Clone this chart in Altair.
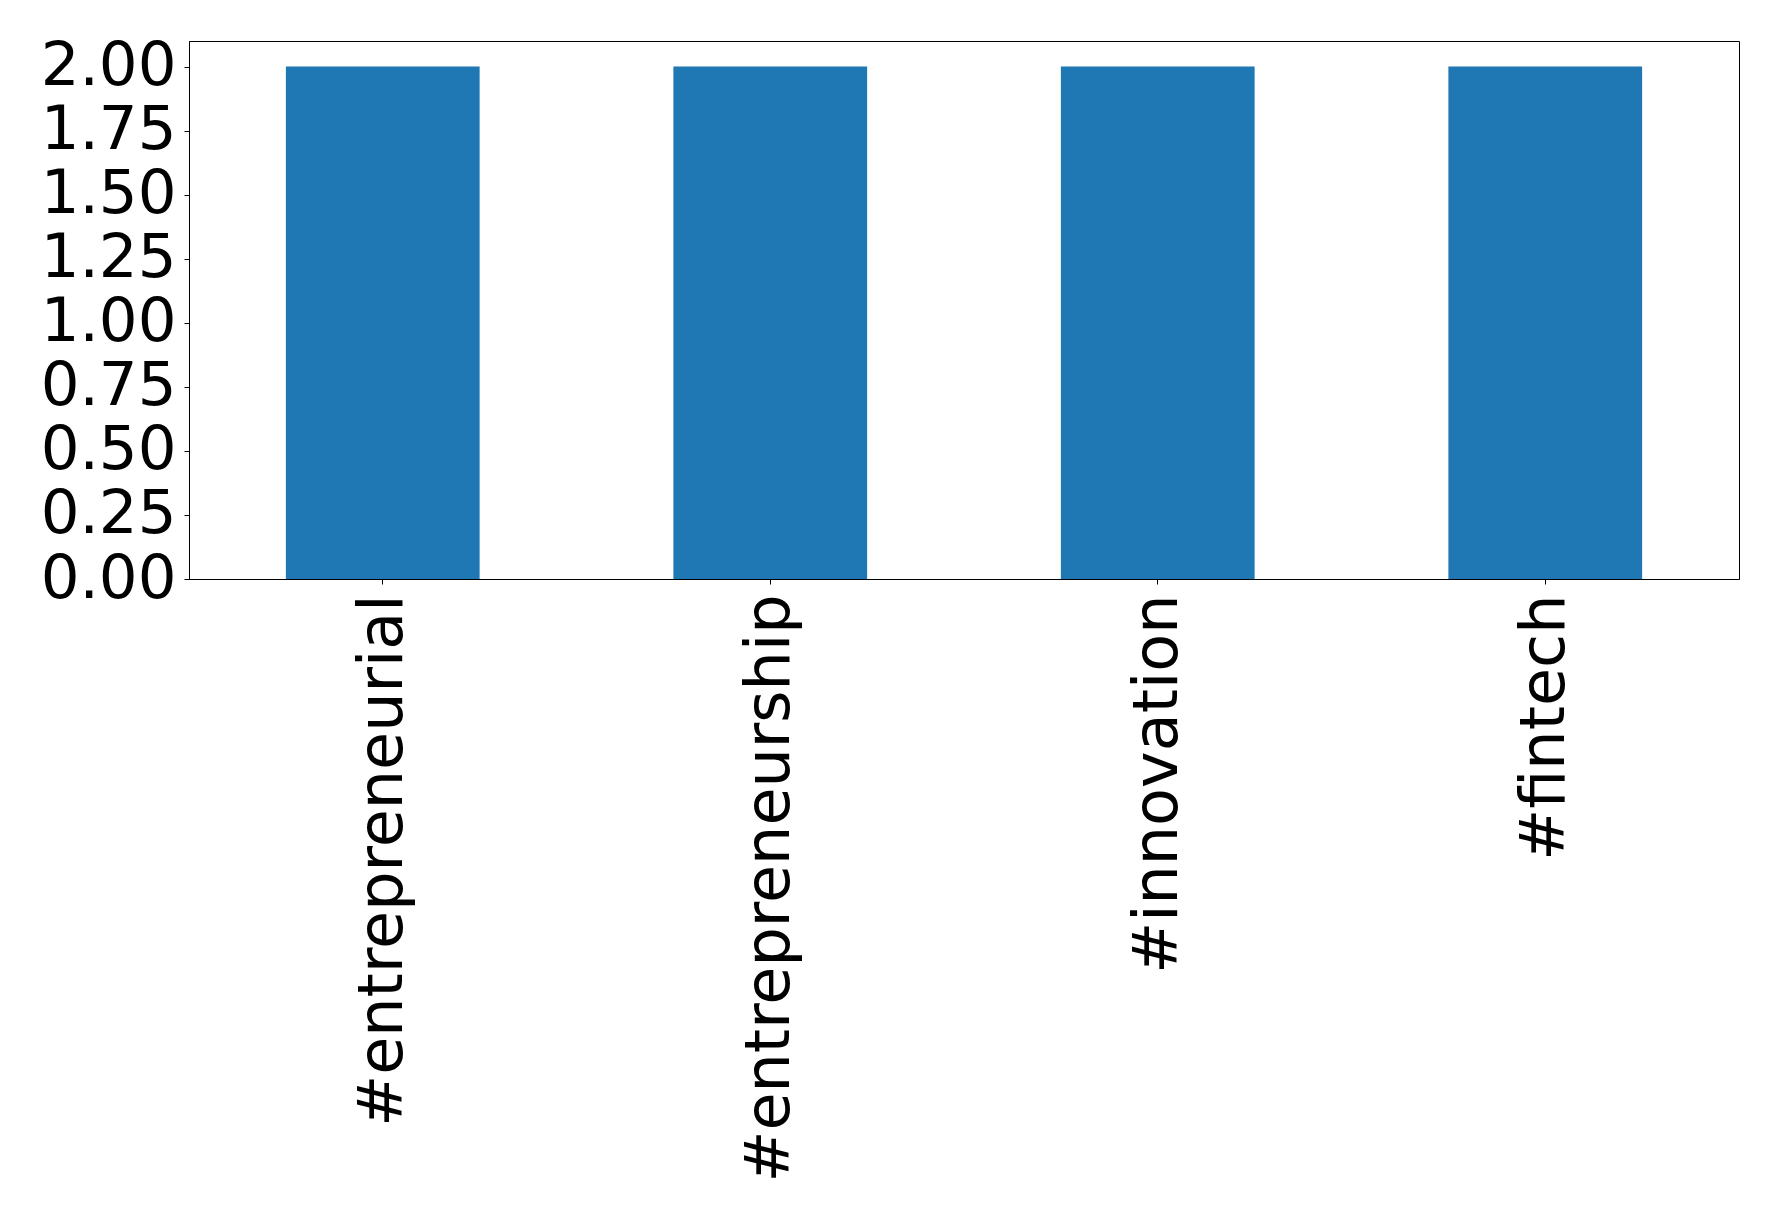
import altair as alt
import pandas as pd

hashtags = ["#entrepreneurial", "#entrepreneurship", "#innovation", "#fintech"]
counts = [2, 2, 2, 2]
y_ticks = [0, 0.25, 0.5, 0.75, 1.0, 1.25, 1.5, 1.75, 2.0]

df = pd.DataFrame({"tag": hashtags, "count": counts})

FONT = "DejaVu Sans"

chart = (
    alt.Chart(df)
    .mark_bar(color="#1f77b4")
    .encode(
        x=alt.X(
            "tag:N",
            sort=hashtags,
            title=None,
            scale=alt.Scale(paddingInner=0.5, paddingOuter=0.25),
            axis=alt.Axis(
                labelAngle=-90,
                labelAlign="right",
                labelBaseline="middle",
                labelFont=FONT,
                labelFontSize=62,
                labelColor="black",
                labelPadding=10,
                labelLimit=1000,
                tickColor="black",
                tickSize=5,
                tickWidth=1,
                domainColor="black",
                domainWidth=1,
                grid=False,
            ),
        ),
        y=alt.Y(
            "count:Q",
            title=None,
            scale=alt.Scale(domain=[0, 2.1], nice=False, zero=True),
            axis=alt.Axis(
                values=y_ticks,
                format=".2f",
                labelFont=FONT,
                labelFontSize=61,
                labelColor="black",
                labelPadding=8,
                labelOverlap=False,
                labelFlush=False,
                labelBaseline="middle",
                tickColor="black",
                tickSize=5,
                tickWidth=1,
                domainColor="black",
                domainWidth=1,
                grid=False,
            ),
        ),
    )
    .properties(
        width=1550,
        height=538,
        background="white",
        autosize=alt.AutoSizeParams(type="none"),
        padding={"left": 181, "top": 33, "right": 25, "bottom": 620},
    )
    .configure_view(stroke="black", strokeWidth=1)
)

chart.save("out.html", embed_options={"renderer": "svg", "actions": False})
